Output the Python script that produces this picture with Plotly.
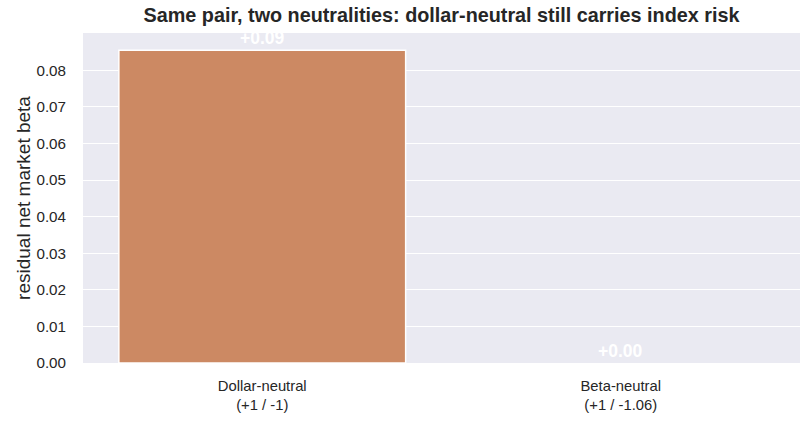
import plotly.graph_objects as go

categories = ["Dollar-neutral<br>(+1 / -1)", "Beta-neutral<br>(+1 / -1.06)"]
values = [0.0855, 0.0]
labels = ["+0.09", "+0.00"]
ticks = [0.00, 0.01, 0.02, 0.03, 0.04, 0.05, 0.06, 0.07, 0.08]

FONT = "Liberation Sans, Arial"

fig = go.Figure()
fig.add_trace(go.Bar(
    x=categories, y=values, width=0.8,
    marker=dict(color=["#cc8963", "#5f9e6e"], line=dict(color="white", width=[1.5, 0])),
    showlegend=False, hoverinfo="skip",
))
for c, v, t in zip(categories, values, labels):
    fig.add_annotation(x=c, y=v, text="<b>%s</b>" % t, showarrow=False,
                       yanchor="bottom", yshift=0,
                       font=dict(color="white", size=17.5, family=FONT))

fig.update_layout(
    width=807, height=422,
    margin=dict(l=83, r=7, t=33, b=59),
    paper_bgcolor="white", plot_bgcolor="#eaeaf2",
    font=dict(family=FONT, size=15, color="#262626"),
    title=dict(text="<b>Same pair, two neutralities: dollar-neutral still carries index risk</b>",
               x=0.5, xanchor="center", xref="paper", y=0.98, yanchor="top",
               font=dict(size=19.8, color="#262626")),
)
fig.update_xaxes(showgrid=False, zeroline=False, showline=False, ticks="",
                 tickfont=dict(size=14.8), range=[-0.5, 1.5], ticklabelstandoff=12)
fig.update_yaxes(range=[0, 0.0902], tickvals=ticks, tickformat=".2f",
                 gridcolor="white", gridwidth=1.3, zeroline=False, showline=False,
                 ticks="", tickfont=dict(size=15.2), ticklabelstandoff=16,
                 title=dict(text="residual net market beta", font=dict(size=19), standoff=0))

fig.write_html("out.html")
